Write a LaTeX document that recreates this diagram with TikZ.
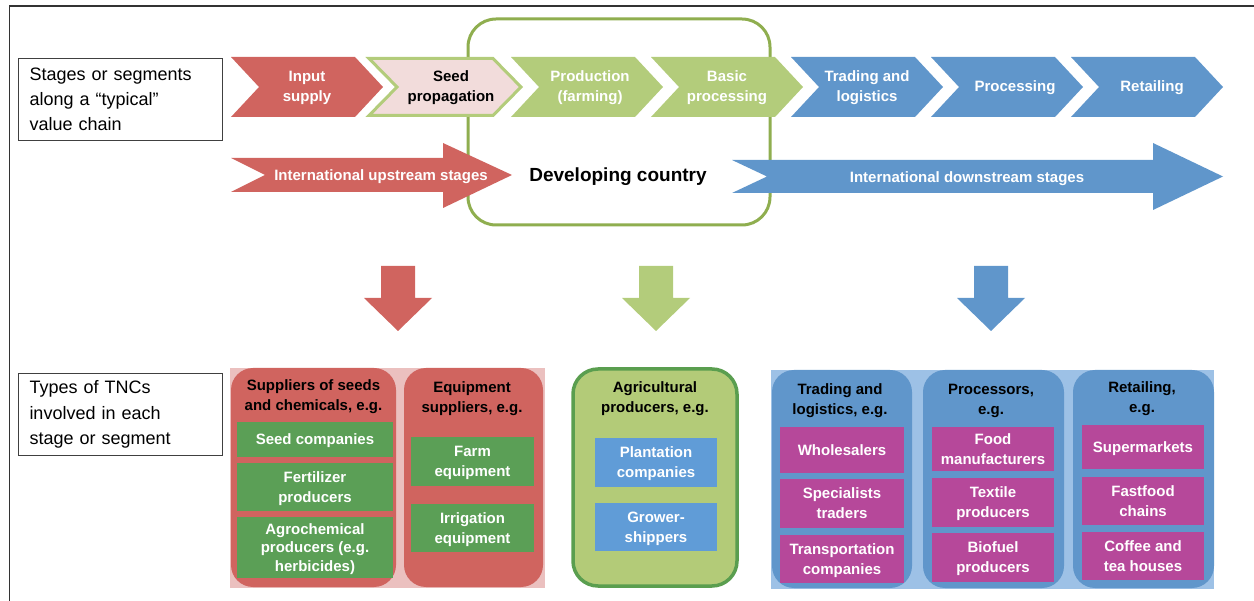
\documentclass[tikz,border=0pt]{standalone}
\usepackage{fontspec}
\setmainfont{Liberation Sans}
\definecolor{cred}{HTML}{D0645F}
\definecolor{cgreen}{HTML}{B3CC7B}
\definecolor{cblue}{HTML}{6096CB}
\definecolor{cpink}{HTML}{F2DCDB}
\definecolor{cdevbox}{HTML}{8FAE4F}
\definecolor{cbgpink}{HTML}{EBC0BF}
\definecolor{cdkgreen}{HTML}{5B9F56}
\definecolor{cagfill}{HTML}{B3CB78}
\definecolor{cagline}{HTML}{5A9E4F}
\definecolor{cltblue}{HTML}{9DC1E6}
\definecolor{cboxblue}{HTML}{609CD7}
\definecolor{cmag}{HTML}{B6489A}
\begin{document}
\begin{tikzpicture}[x=1pt,y=-1pt,
  wtxt/.style={text=white,font=\fontsize{15}{20}\selectfont\bfseries,align=center,inner sep=0pt,text depth=0pt},
  btxt/.style={text=black,font=\fontsize{15}{20}\selectfont\bfseries,align=center,inner sep=0pt,text depth=0pt},
  lblbox/.style={draw=black!75,line width=1pt,font=\fontsize{18}{25.3}\selectfont,align=left,
    text width=182pt,inner xsep=11pt,inner ysep=0pt,minimum height=82pt,anchor=north west},
  gbox/.style={wtxt,fill=cdkgreen},
  pbox/.style={wtxt,fill=cboxblue},
  mbox/.style={wtxt,fill=cmag},
  colbox/.style={rounded corners=22pt}]
\useasboundingbox (0,0) rectangle (1254,601);
% frame
\draw[line width=1.3pt,black!80] (9.5,601) -- (9.5,6) -- (1254,6);
% label boxes
\node[lblbox] (lab1) at (18,58) {Stages or segments\\along a ``typical''\\value chain};
\node[lblbox] (lab2) at (18,373) {Types of TNCs\\involved in each\\stage or segment};
% developing country box
\node[draw=cdevbox,line width=3pt,rounded corners=28pt,minimum width=302pt,minimum height=206pt,inner sep=0pt] (devbox) at (619,122) {};
% chevrons
\foreach \L/\col/\txt/\dx [count=\i] in {231/cred/{Input\\supply}/76,511/cgreen/{Production\\(farming)}/79,651/cgreen/{Basic\\processing}/76,791/cblue/{Trading and\\logistics}/76,931/cblue/{Processing}/84,1071/cblue/{Retailing}/81}{
  \fill[\col] (\L,57) -- (\L+124,57) -- (\L+152,87) -- (\L+124,117) -- (\L,117) -- (\L+28,87) -- cycle;
  \node[wtxt] (c\i) at (\L+\dx,86) {\txt};
}
% seed propagation chevron
\filldraw[fill=cpink,draw=cgreen,line width=3pt,line join=miter] (369,58.5) -- (493,58.5) -- (521,87) -- (493,115.5) -- (369,115.5) -- (397,87) -- cycle;
\node[btxt] (cseed) at (451,86) {Seed\\propagation};
% upstream arrow
\fill[cred] (231,158) -- (443,158) -- (443,143) -- (512,175) -- (443,208) -- (443,192) -- (231,192) -- (265,175) -- cycle;
\node[wtxt] (up) at (381,175) {International upstream stages};
% downstream arrow
\fill[cblue] (732,160) -- (1153,160) -- (1153,143) -- (1223,176.5) -- (1153,210) -- (1153,193) -- (732,193) -- (767,176.5) -- cycle;
\node[wtxt] (down) at (967,177) {International downstream stages};
\node[btxt,font=\fontsize{19}{22}\selectfont\bfseries] (dev) at (618,175) {Developing country};
% down arrows
\foreach \c/\col in {398/cred,656/cgreen,991/cblue}{
  \fill[\col] (\c-17,266) -- (\c+17,266) -- (\c+17,298) -- (\c+34,298) -- (\c,331) -- (\c-34,298) -- (\c-17,298) -- cycle;
}
% red section
\fill[cbgpink] (230,368) rectangle (545,588);
\fill[cred,colbox] (231,368) rectangle (396,587);
\fill[cred,colbox] (404,368) rectangle (543,587);
\node[btxt] (h1) at (313.5,395) {Suppliers of seeds\\and chemicals, e.g.};
\node[btxt] (h2) at (472,397) {Equipment\\suppliers, e.g.};
\node[gbox,minimum width=156pt,minimum height=35pt] (g1) at (315,439.5) {Seed companies};
\node[gbox,minimum width=156pt,minimum height=48pt] (g2) at (315,487) {Fertilizer\\producers};
\node[gbox,minimum width=156pt,minimum height=61pt,font=\fontsize{15}{18.5}\selectfont\bfseries] (g3) at (315,547.5) {Agrochemical\\producers (e.g.\\herbicides)};
\node[gbox,minimum width=123pt,minimum height=49pt] (g4) at (472.5,461.5) {Farm\\equipment};
\node[gbox,minimum width=123pt,minimum height=48pt] (g5) at (472.5,528) {Irrigation\\equipment};
% green section
\filldraw[draw=cagline,fill=cagfill,line width=3.5pt,rounded corners=25pt] (573,369) rectangle (737,586);
\node[btxt] (h3) at (655,397) {Agricultural\\producers, e.g.};
\node[pbox,minimum width=122pt,minimum height=49pt] (p1) at (656,462.5) {Plantation\\companies};
\node[pbox,minimum width=122pt,minimum height=48pt] (p2) at (656,527) {Grower-\\shippers};
% blue section
\fill[cltblue] (771,370) rectangle (1214,589);
\fill[cblue,colbox] (772,370) rectangle (912,588);
\fill[cblue,colbox] (923,370) rectangle (1064,588);
\fill[cblue,colbox] (1073,370) rectangle (1214,588);
\node[btxt] (h4) at (840,399) {Trading and\\logistics, e.g.};
\node[btxt] (h5) at (991,399) {Processors,\\e.g.};
\node[btxt] (h6) at (1142,397) {Retailing,\\e.g.};
\node[mbox,minimum width=124pt,minimum height=46pt] (m1) at (842,450) {Wholesalers};
\node[mbox,minimum width=124pt,minimum height=49pt] (m2) at (842,503.5) {Specialists\\traders};
\node[mbox,minimum width=124pt,minimum height=48pt] (m3) at (842,559) {Transportation\\companies};
\node[mbox,minimum width=122pt,minimum height=44pt] (m4) at (993,449) {Food\\manufacturers};
\node[mbox,minimum width=122pt,minimum height=49pt] (m5) at (993,502.5) {Textile\\producers};
\node[mbox,minimum width=122pt,minimum height=49pt] (m6) at (993,557.5) {Biofuel\\producers};
\node[mbox,minimum width=122pt,minimum height=44pt] (m7) at (1143,447) {Supermarkets};
\node[mbox,minimum width=122pt,minimum height=48pt] (m8) at (1143,501) {Fastfood\\chains};
\node[mbox,minimum width=122pt,minimum height=48pt] (m9) at (1143,556) {Coffee and\\tea houses};
\end{tikzpicture}
\end{document}
